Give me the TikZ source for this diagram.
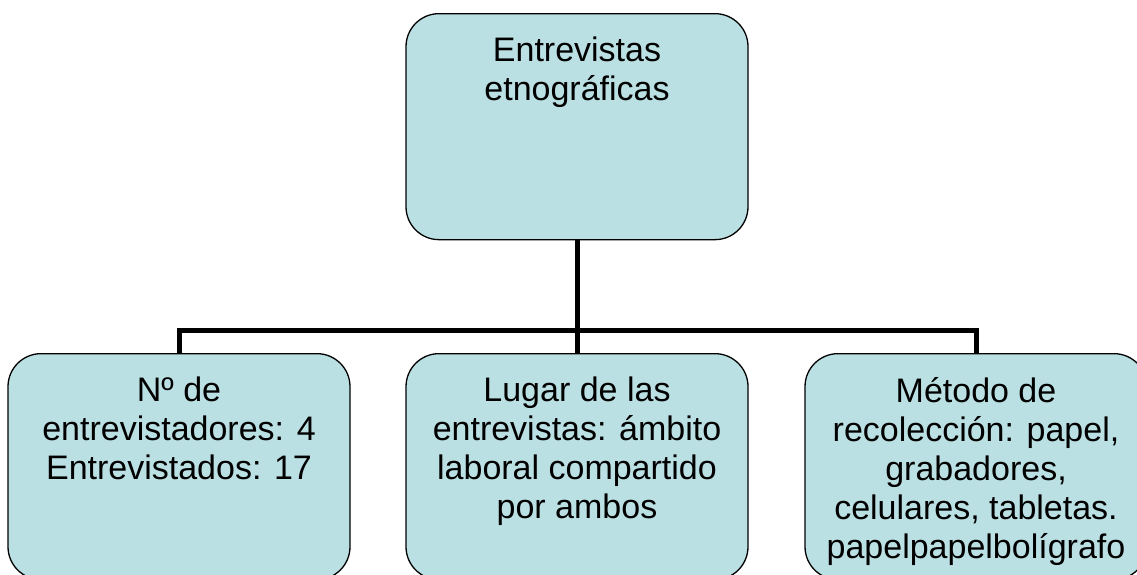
\documentclass[tikz,border=0pt]{standalone}
\usepackage{fontspec}
\setmainfont{Liberation Sans}
\usetikzlibrary{positioning}
\definecolor{box_fill}{RGB}{187, 224, 227}
\begin{document}
\begin{tikzpicture}[
        x=1pt, y=-1pt,
        box/.style={rectangle, rounded corners=33pt, draw=black, line width=1.3pt,
                    fill=box_fill, minimum width=342pt, minimum height=226pt,
                    inner sep=0pt, anchor=north},
        txt/.style={align=center, inner sep=0pt, anchor=north,
                    font=\fontsize{34}{39}\selectfont},
        conn/.style={line width=5pt, black},
      ]
        \useasboundingbox (0,0) rectangle (1137,574);

        \node[box] (top) at (577,13)  {};
        \node[box] (lb)  at (179,353) {};
        \node[box] (mb)  at (577,353) {};
        \node[box] (rb)  at (976,353) {};

        \coordinate (bus) at (577,330);

        \draw[conn] (top.south) -- (mb.north);
        \draw[conn] (lb.north) |- (bus) -| (rb.north);

        \node[txt, below=24pt of top.north] (toptxt) {Entrevistas\\etnográficas};
        \node[txt, below=24pt of lb.north]  (lbtxt)  {Nº de\\entrevistadores: 4\\Entrevistados: 17};
        \node[txt, below=24pt of mb.north]  (mbtxt)  {Lugar de las\\entrevistas: ámbito\\laboral compartido\\por ambos};
        \node[txt, below=24pt of rb.north]  (rbtxt)  {Método de\\recolección: papel,\\grabadores,\\celulares, tabletas.\\papelpapelbolígrafo};
      \end{tikzpicture}
\end{document}
